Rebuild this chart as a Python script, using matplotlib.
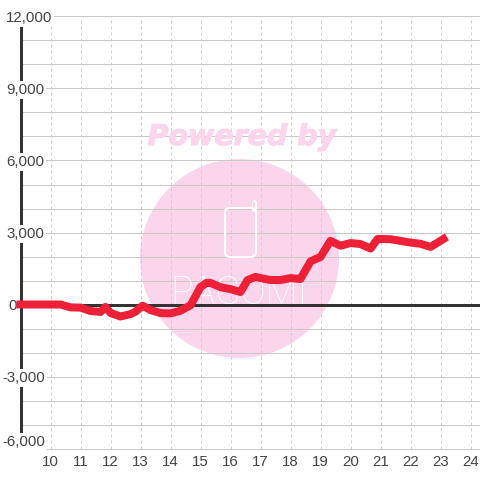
import matplotlib
matplotlib.use("Agg")
import matplotlib.pyplot as plt
import matplotlib.patheffects as pe
from matplotlib.patches import Circle, FancyBboxPatch
from matplotlib.transforms import Affine2D

plt.rcParams['font.family'] = ['Liberation Sans', 'DejaVu Sans']

# hours on x, value on y
hours = [9.0, 10, 10.33, 10.67, 11, 11.33, 11.67, 11.83, 12, 12.33, 12.67, 12.83,
         13.07, 13.33, 13.67, 14, 14.33, 14.67, 15, 15.2, 15.33, 15.67, 16, 16.33,
         16.57, 16.83, 17, 17.33, 17.67, 18, 18.33, 18.67, 19, 19.33, 19.67, 20,
         20.33, 20.67, 20.9, 21.33, 21.67, 22, 22.33, 22.67, 23.1]
values = [0, 0, 0, -120, -130, -270, -310, -100, -350, -500, -400, -300,
          -50, -230, -360, -370, -260, -30, 730, 900, 900, 720, 640, 520,
          1020, 1150, 1100, 1020, 1020, 1100, 1060, 1800, 1980, 2650, 2450, 2560,
          2520, 2330, 2730, 2720, 2650, 2580, 2530, 2400, 2730]

x_ticks = list(range(10, 25))
y_ticks = list(range(-6000, 13000, 1000))
y_labels = {12000: "12,000", 9000: "9,000", 6000: "6,000", 3000: "3,000", 0: "0",
            -3000: "-3,000", -6000: "-6,000"}

GRID = "#c8c8c8"
DARK = "#333333"
TEXT = "#444444"
PINK = "#fbd5ec"
RED = "#ee2038"

fig = plt.figure(figsize=(4.8, 4.8), dpi=100)
ax = fig.add_axes([20.5 / 480, 31.5 / 480, 459.5 / 480, 432 / 480])
ax.set_xlim(9, 9 + 459.5 / 30)
ax.set_ylim(-6000, 12000)

for s in ["top", "right", "bottom"]:
    ax.spines[s].set_visible(False)
ax.spines["left"].set_linewidth(3 * 0.72)
ax.spines["left"].set_color(DARK)

ax.set_xticks(x_ticks)
ax.set_yticks(y_ticks)
ax.set_yticklabels([])
ax.tick_params(length=0)
ax.tick_params(axis="x", labelsize=10.8, labelcolor=TEXT, pad=5)
ax.set_axisbelow(True)
ax.xaxis.grid(True, color="#cfcfcf", lw=0.72, linestyle=(0, (3, 3)))
ax.yaxis.grid(True, color=GRID, lw=0.72)
for ln in ax.yaxis.get_gridlines():
    ln.set_clip_on(False)

# watermark, placed in picture pixels (y down)
px = Affine2D().scale(1, -1).translate(0, 480)
ax.add_patch(Circle((239.5, 258.5), 99.5, fc=PINK, ec="none", transform=px, zorder=0.5))
ax.text(242, 145, "Powered by", transform=px, color=PINK, fontsize=20.5, family="DejaVu Sans",
        weight="bold", style="oblique", ha="center", va="baseline", zorder=0.6,
        path_effects=[pe.withStroke(linewidth=0.8, foreground=PINK)])
ax.add_patch(FancyBboxPatch((225, 208), 31, 49, boxstyle="round,pad=0,rounding_size=5", fc="none",
                            ec="white", lw=1.44, transform=px, zorder=0.6))
ax.plot([253.5, 253.5], [202, 209], color="white", lw=3.6, solid_capstyle="round", transform=px, zorder=0.6)
ax.plot([253.5, 253.5], [202, 207], color=PINK, lw=1.4, solid_capstyle="round", transform=px, zorder=0.61)
ax.text(239, 304, "PAGOMI", transform=px, color="white", fontsize=27, family="Roboto", weight="light",
        ha="center", va="baseline", zorder=0.6)

ax.axhline(0, color=DARK, lw=3 * 0.72, zorder=2)
ax.plot(hours, values, color=RED, lw=8 * 0.72, solid_capstyle="projecting", solid_joinstyle="round",
        clip_on=False, zorder=3)

for v, lab in y_labels.items():
    left = 8 if v == 0 else (2 if v < 0 else 6)
    ax.annotate(lab, xy=(left, v), xycoords=("figure pixels", "data"),
                xytext=(0, 6.5 if v == -6000 else -1.5), textcoords="offset pixels",
                ha="left", va="center", fontsize=10.8, color=TEXT, annotation_clip=False, zorder=2.8,
                bbox=dict(fc="white", ec="none", pad=1.5))

fig.savefig("out.png", dpi=100)
